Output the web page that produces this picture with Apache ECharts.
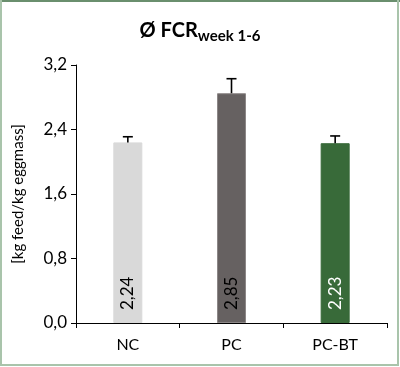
<!DOCTYPE html>
<html>
<head>
<meta charset="utf-8">
<script src="https://cdn.jsdelivr.net/npm/echarts@6/dist/echarts.min.js"></script>
<style>
html,body{margin:0;padding:0;background:#fff;}
#chart{position:absolute;left:0;top:0;width:400px;height:367px;}
#bt{position:absolute;left:0;top:0;width:400px;height:2px;background:#6a8f6e;}
#bl{position:absolute;left:0;top:0;width:2px;height:365px;background:#a9c4ab;}
#br{position:absolute;left:397px;top:0;width:2px;height:365px;background:#a9c4ab;}
#bb{position:absolute;left:0;top:364px;width:399px;height:2px;background:#a9c4ab;}
</style>
</head>
<body>
<div id="chart"></div>
<div id="bt"></div><div id="bl"></div><div id="br"></div><div id="bb"></div>
<script>
var categories = ['NC', 'PC', 'PC-BT'];
var values = [2.24, 2.85, 2.23];
var errors = [0.07, 0.18, 0.09];
var yTicks = [0, 0.8, 1.6, 2.4, 3.2];
var barColors = ['#d9d9d9', '#666161', '#386a39'];
var labelColors = ['#000000', '#000000', '#ffffff'];

var FONT = 'Lato, "Open Sans", sans-serif';
function fmt(v){ return v.toFixed(2).replace('.', ','); }

var chart = echarts.init(document.getElementById('chart'), null, {renderer:'canvas'});
chart.setOption({
  animation: false,
  backgroundColor: '#ffffff',
  title: {
    text: 'Ø FCR{sub|week 1-6}',
    left: 'center',
    top: 13,
    textStyle: {
      fontFamily: FONT, fontWeight: 'bold', fontSize: 20, color: '#000',
      rich: { sub: { fontFamily: FONT, fontWeight: 'bold', fontSize: 15, color: '#000', padding: [11, 0, 0, 0] } }
    }
  },
  grid: { left: 76, right: 13, top: 65, bottom: 44 },
  xAxis: {
    type: 'category',
    data: categories,
    axisLine: { lineStyle: { color: '#000', width: 1 } },
    axisTick: { show: true, interval: 0, length: 5, lineStyle: { color: '#000' } },
    axisLabel: { color: '#000', fontFamily: FONT, fontSize: 16, margin: 14 }
  },
  yAxis: {
    type: 'value',
    min: yTicks[0], max: yTicks[yTicks.length - 1], interval: yTicks[1] - yTicks[0],
    name: '[kg feed/kg eggmass]',
    nameLocation: 'middle',
    nameGap: 50,
    nameTextStyle: { color: '#000', fontFamily: FONT, fontSize: 15 },
    axisLine: { show: true, lineStyle: { color: '#000', width: 1 } },
    axisTick: { show: true, length: 5, lineStyle: { color: '#000' } },
    splitLine: { show: false },
    axisLabel: { color: '#000', fontFamily: FONT, fontSize: 17, margin: 9,
      formatter: function(v){ return v.toFixed(1).replace('.', ','); } }
  },
  series: [
    {
      type: 'bar',
      barWidth: 29,
      data: values.map(function(v, i){
        return {
          value: v,
          itemStyle: { color: barColors[i], borderColor: i === 1 ? '#8c8787' : barColors[i], borderWidth: 1 },
          label: { color: labelColors[i] }
        };
      }),
      label: {
        show: true,
        position: 'insideBottom',
        rotate: 90,
        align: 'left',
        verticalAlign: 'middle',
        distance: 13,
        fontFamily: FONT,
        fontSize: 17,
        formatter: function(p){ return fmt(p.value); }
      }
    },
    {
      type: 'custom',
      z: 5,
      data: values.map(function(v, i){ return [i, v, v + errors[i]]; }),
      renderItem: function(params, api){
        var x = api.value(0);
        var p0 = api.coord([x, api.value(1)]);
        var p1 = api.coord([x, api.value(2)]);
        var hw = 5;
        var st = { stroke: '#000', lineWidth: 1.6 };
        return {
          type: 'group',
          children: [
            { type: 'line', shape: { x1: p0[0], y1: p0[1], x2: p1[0], y2: p1[1] }, style: st },
            { type: 'line', shape: { x1: p1[0] - hw, y1: p1[1], x2: p1[0] + hw, y2: p1[1] }, style: st }
          ]
        };
      }
    }
  ]
});
</script>
</body>
</html>
